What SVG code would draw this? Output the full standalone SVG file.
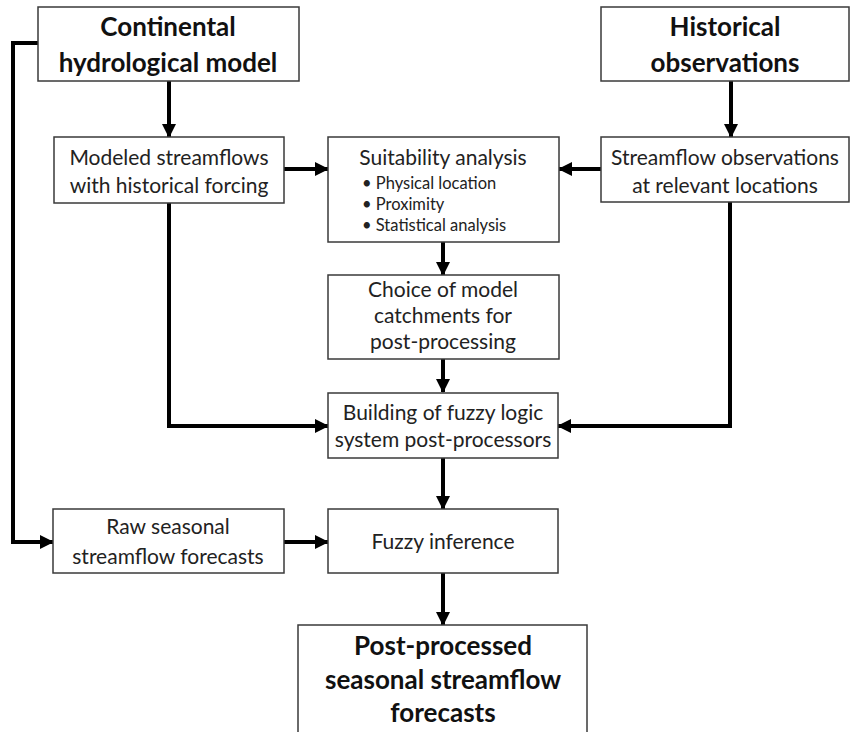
<svg xmlns="http://www.w3.org/2000/svg" width="851" height="732" viewBox="0 0 851 732">
<style>
.box{fill:#fff;stroke:#3a3a3a;stroke-width:1.5}
.t{font-family:Lato,"Open Sans",sans-serif;font-size:21px;fill:#222;text-anchor:middle}
.b{font-family:Lato,"Open Sans",sans-serif;font-size:26px;font-weight:bold;fill:#111;text-anchor:middle}
.s{font-family:Lato,"Open Sans",sans-serif;font-size:16.5px;fill:#222}
.c{fill:none;stroke:#000;stroke-width:4;marker-end:url(#ah)}
</style>
<defs>
<marker id="ah" markerUnits="userSpaceOnUse" markerWidth="14" markerHeight="14" refX="13" refY="7" orient="auto">
<path d="M0,0 L14,7 L0,14 z" fill="#000"/>
</marker>
</defs>
<rect width="851" height="732" fill="#fff"/>
<g id="connectors">
<path class="c" d="M169,81 V137"/>
<path class="c" d="M284,169 H328"/>
<path class="c" d="M601,169 H559"/>
<path class="c" d="M731,81 V137"/>
<path class="c" d="M443,242 V275"/>
<path class="c" d="M443,359 V392"/>
<path class="c" d="M169,203 V426 H328"/>
<path class="c" d="M730,202 V426 H558"/>
<path class="c" d="M443,458 V509"/>
<path class="c" d="M38,43 H13 V542 H53"/>
<path class="c" d="M284,542 H328"/>
<path class="c" d="M443,573 V625"/>
</g>
<g id="continental">
<rect class="box" x="38" y="7" width="261" height="74"/>
<text class="b" x="168" y="36">Continental</text>
<text class="b" x="168" y="72">hydrological model</text>
</g>
<g id="historical">
<rect class="box" x="601" y="7" width="248" height="74"/>
<text class="b" x="725" y="36">Historical</text>
<text class="b" x="725" y="72">observations</text>
</g>
<g id="modeled">
<rect class="box" x="54" y="137" width="230" height="66"/>
<text class="t" x="169" y="165">Modeled streamflows</text>
<text class="t" x="169" y="193">with historical forcing</text>
</g>
<g id="suitability">
<rect class="box" x="328" y="137" width="231" height="105"/>
<text class="t" x="443" y="165">Suitability analysis</text>
<text class="s" x="362" y="189">•  Physical location</text>
<text class="s" x="362" y="210">•  Proximity</text>
<text class="s" x="362" y="231">•  Statistical analysis</text>
</g>
<g id="streamobs">
<rect class="box" x="601" y="137" width="248" height="65"/>
<text class="t" x="725" y="165">Streamflow observations</text>
<text class="t" x="725" y="193">at relevant locations</text>
</g>
<g id="choice">
<rect class="box" x="328" y="275" width="231" height="84"/>
<text class="t" x="443" y="297">Choice of model</text>
<text class="t" x="443" y="323">catchments for</text>
<text class="t" x="443" y="349">post-processing</text>
</g>
<g id="building">
<rect class="box" x="328" y="393" width="230" height="65"/>
<text class="t" x="443" y="420">Building of fuzzy logic</text>
<text class="t" x="443" y="447">system post-processors</text>
</g>
<g id="raw">
<rect class="box" x="53" y="509" width="231" height="64"/>
<text class="t" x="168" y="534">Raw seasonal</text>
<text class="t" x="168" y="564">streamflow forecasts</text>
</g>
<g id="fuzzy">
<rect class="box" x="328" y="509" width="230" height="64"/>
<text class="t" x="443" y="549">Fuzzy inference</text>
</g>
<g id="postprocessed">
<rect class="box" x="298" y="625" width="289" height="120"/>
<text class="b" x="443" y="655">Post-processed</text>
<text class="b" x="443" y="689">seasonal streamflow</text>
<text class="b" x="443" y="722">forecasts</text>
</g>
</svg>
